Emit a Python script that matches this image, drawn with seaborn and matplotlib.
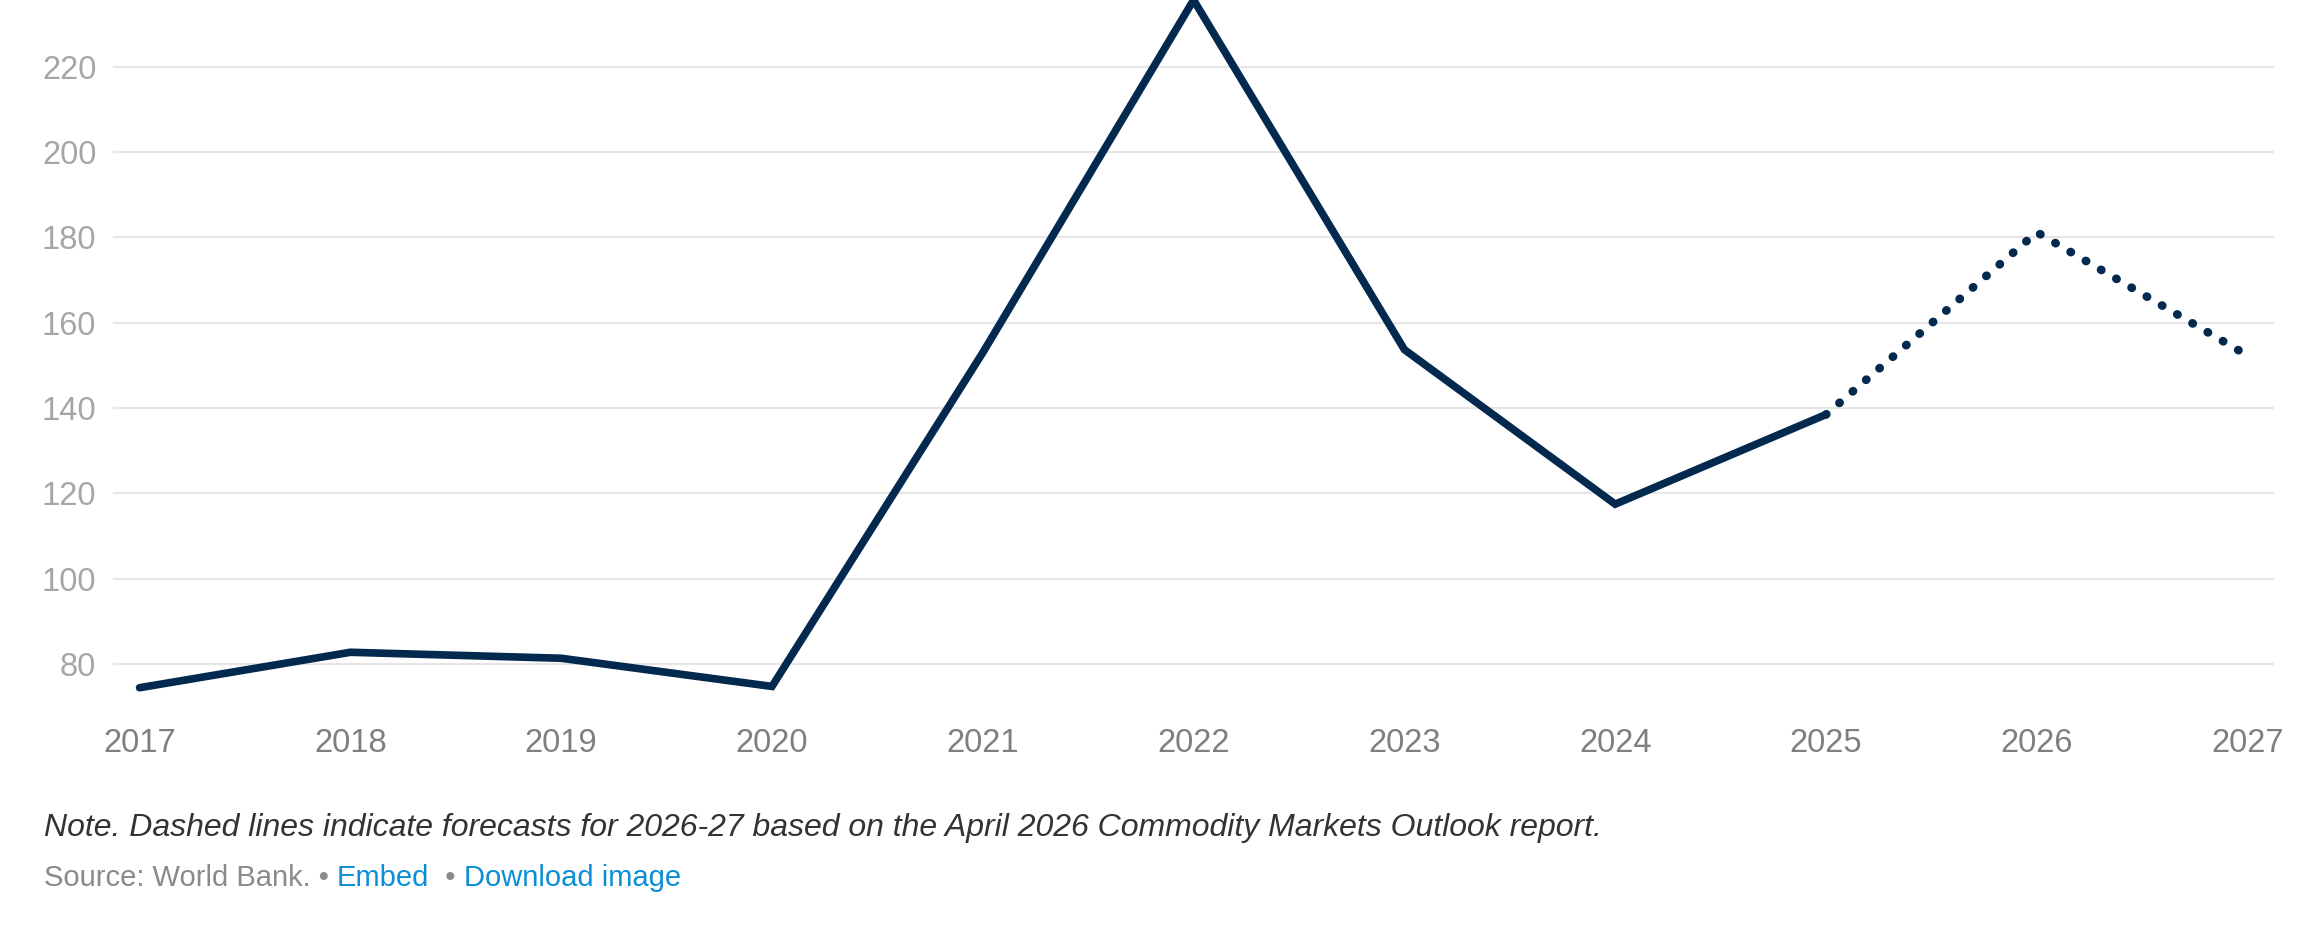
import matplotlib
matplotlib.use("Agg")
import matplotlib.pyplot as plt
import pandas as pd
import seaborn as sns

# ── Data ──────────────────────────────────────────────────────────────────────
YEARS_ACTUAL    = [2017, 2018, 2019, 2020, 2021, 2022, 2023, 2024, 2025]
VALUES_ACTUAL   = [74.5, 82.8, 81.4, 74.8, 153.0, 235.6, 153.7, 117.5, 138.5]
YEARS_FORECAST  = [2025, 2026, 2027]
VALUES_FORECAST = [138.5, 181.2, 152.3]
Y_TICKS = [80, 100, 120, 140, 160, 180, 200, 220]
X_TICKS = list(range(2017, 2028))

NOTE = ("Note. Dashed lines indicate forecasts for 2026-27 based on the "
        "April 2026 Commodity Markets Outlook report.")

LINE_COLOR = "#03294f"
GRID_COLOR = "#e6e6e6"

sns.set_theme(style="white")
plt.rcParams["font.family"] = ["Liberation Sans", "DejaVu Sans"]

W, H = 2304, 943
fig = plt.figure(figsize=(W / 100, H / 100), dpi=100)
left, right, top, bottom = 113, 2274, 0, 724
ax = fig.add_axes([left / W, 1 - bottom / H, (right - left) / W, (bottom - top) / H])

actual = pd.DataFrame({"year": YEARS_ACTUAL, "value": VALUES_ACTUAL})
forecast = pd.DataFrame({"year": YEARS_FORECAST, "value": VALUES_FORECAST})

sns.lineplot(data=actual, x="year", y="value", color=LINE_COLOR, lw=5.5,
             solid_capstyle="round", solid_joinstyle="miter", ax=ax, zorder=3)
sns.lineplot(data=forecast, x="year", y="value", color=LINE_COLOR, lw=6.2,
             ax=ax, zorder=3)
ax.lines[-1].set_linestyle((0, (0.05, 2.0)))
ax.lines[-1].set_dash_capstyle("round")

ax.set_xlim(2016.874, 2027.125)
ax.set_ylim(66, 235.6)
ax.set_yticks(Y_TICKS)
ax.set_xticks(X_TICKS)
ax.set_xticklabels([str(y) for y in X_TICKS])
ax.grid(axis="y", color=GRID_COLOR, lw=1.6)
ax.grid(axis="x", visible=False)
ax.set_axisbelow(True)
for s in ax.spines.values():
    s.set_visible(False)
ax.set_xlabel("")
ax.set_ylabel("")
ax.tick_params(axis="y", length=0, pad=12, labelsize=23.5, labelcolor="#a6a6a6")
ax.tick_params(axis="x", length=0, pad=3, labelsize=23.5, labelcolor="#7f7f7f")

# ── Footer texts ──────────────────────────────────────────────────────────────
fig.text(44 / W, 1 - 828 / H, NOTE, fontsize=23, style="italic",
         color="#333333", va="center", ha="left")

renderer = fig.canvas.get_renderer()
x = 44 / W
y = 1 - 878 / H
parts = [("Source: World Bank. • ", "#8a8a8a"), ("Embed", "#0a8fd6"),
         ("  • ", "#8a8a8a"), ("Download image", "#0a8fd6")]
for txt, col in parts:
    t = fig.text(x, y, txt, fontsize=21, color=col, va="center", ha="left")
    bb = t.get_window_extent(renderer=renderer)
    x += bb.width / W

fig.savefig("out.png", dpi=100)
